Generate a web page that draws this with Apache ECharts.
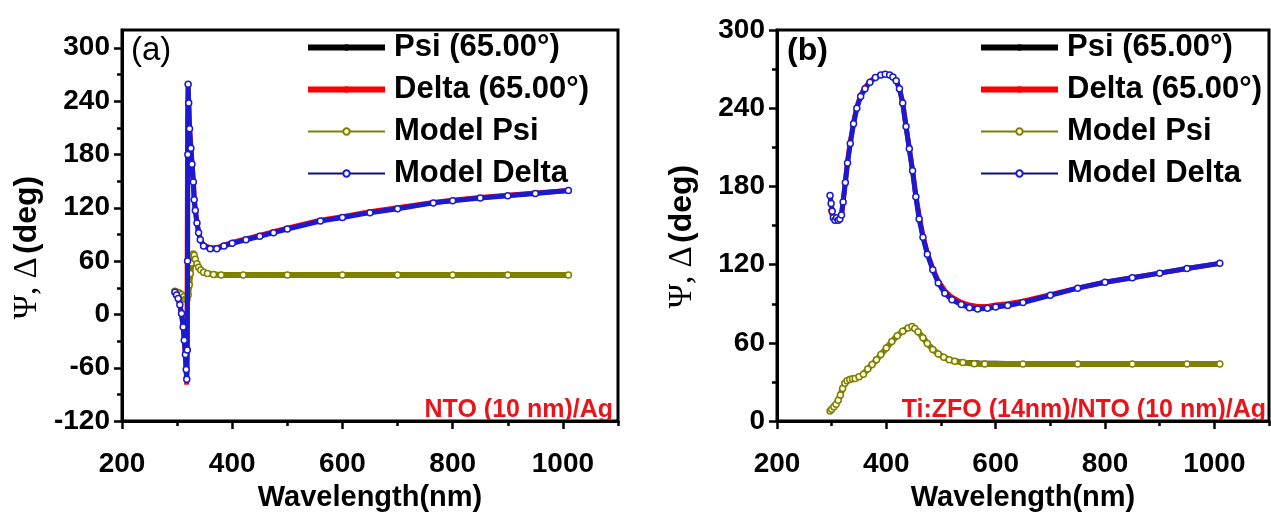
<!DOCTYPE html>
<html>
<head>
<meta charset="utf-8">
<script src="https://cdn.jsdelivr.net/npm/echarts@6/dist/echarts.min.js"></script>
<style>
html,body{margin:0;padding:0;background:#fff;}
#chart{width:1271px;height:517px;}
</style>
</head>
<body>
<div id="chart"></div>
<script>
// ---------- DATA (wavelength nm, degrees) ----------
const seriesNames = ['Psi (65.00°)', 'Delta (65.00°)', 'Model Psi', 'Model Delta'];

// Panel (a) NTO (10 nm)/Ag
const aPsiExp = [[296,27],[302,25],[308,23],[312,20],[315,16],[318,15],[320,20],[322,30],[324,42],[326,54],[328,61],[330,63],[332,61],[335,56],[339,52],[344,49],[350,47.5],[358,46.5],[366,46],[380,45],[420,44.7],[500,44.5],[600,44.5],[800,44.5],[1010,44.5]];
const aDeltaExp = [[296,24],[299,21],[302,17],[305,10],[308,0],[311,-15],[313,-30],[315,-47],[316.5,-65],[317.5,-79],[318,-30],[318.5,100],[319,222],[320,255],[321,240],[322.5,210],[325,188],[327,170],[329.5,150],[331,130],[333,118],[336,104],[339,93],[342,85],[348,78],[360,75],[372,75],[385,78],[400,81],[425,85],[450,89],[475,93],[500,97],[560,106],[600,110],[650,115.5],[700,120],[765,126],[800,128.5],[850,131.5],[900,134],[950,136.5],[1010,139.5]];
const aPsiModel = [[296,26],[300,25],[304,24],[308,22.5],[312,20],[315,17],[318,17],[320,22],[322,33],[324,46],[326,58],[328,66],[329.5,68],[331,66.5],[333,62],[336,57],[339,53],[343,50],[348,47.5],[355,46],[366,45],[380,44.5],[420,44.5],[500,44.5],[600,44.5],[700,44.5],[800,44.5],[900,44.5],[1010,44.5]];
const aDeltaModel = [[296,25],[299,22],[302,18],[305,11],[308,1],[311,-14],[313,-29],[315,-45],[316.5,-62],[317.5,-73],[318.5,-40],[319,60],[319.5,180],[320,259],[321,238],[322.5,209],[325,187],[327,169],[329.5,149],[331,129],[333,117],[336,103],[339,92],[342,84],[348,77],[360,74],[372,74],[385,77],[400,80],[425,84],[450,88],[475,92],[500,96],[560,105],[600,109],[650,114.5],[700,119],[765,125.5],[800,128],[850,131],[900,133.5],[950,136],[1010,139.5]];

// Panel (b) Ti:ZFO (14nm)/NTO (10 nm)/Ag
const bPsiExp = [[297,7],[300,8.5],[304,10.5],[308,13],[312,16],[316,20],[320,25],[324,29],[328,31],[333,32],[338,32.5],[343,32.6],[350,34],[358,36],[366,40],[374,43.5],[382,47],[390,51],[400,56],[410,61],[420,65.5],[430,69],[440,71.5],[447,72.5],[452,71],[458,68.5],[467,64],[475,59.5],[485,55],[495,51.5],[505,49],[515,47.5],[525,46.5],[540,45.5],[570,45],[600,44.8],[620,44.5],[700,43.8],[800,43.8],[900,43.8],[1010,43.8]];
const bDeltaExp = [[297,163],[300,159],[303,156],[306,155],[309,156],[312,155],[315,156],[318,159],[321,169],[325,184],[329,199],[334,214],[340,229],[346,241],[353,250],[361,256],[370,260.5],[380,263.5],[390,265.5],[398,266],[406,265.5],[412,264],[418,261],[424,255],[430,244],[436,226],[442,209],[448,192],[454,173],[460,158],[467,142],[475,129],[485,117],[495,107.5],[507,100],[520,95],[537,91],[552,89],[567,88],[585,88],[600,89],[622,90],[650,92],[700,97],[750,102],[800,106.5],[850,110],[900,113.5],[950,117],[1010,121]];
const bPsiModel = [[297,7.7],[300,9],[304,11],[308,13],[312,16],[316,20],[320,25],[324,29],[328,31],[333,32],[338,32.5],[343,32.6],[350,34],[358,36],[366,40],[374,43.5],[382,47],[390,51],[400,56],[410,61],[420,65.5],[430,69],[440,71.5],[447,72.5],[452,71],[458,68.5],[467,64],[475,59.5],[485,55],[495,51.5],[505,49],[515,47],[525,46],[540,45],[561,44],[580,43.8],[650,43.8],[750,43.8],[850,43.8],[950,43.8],[1010,43.8]];
const bDeltaModel = [[297,173],[299,167],[301,161],[303,156],[306,154],[309,156],[312,154],[315,155],[318,158],[321,168],[325,183],[329,198],[334,213],[340,228],[346,240],[353,249],[361,255],[370,260],[380,263.5],[390,265.5],[398,266],[406,265.5],[412,264],[418,261],[424,255],[430,244],[436,226],[442,209],[448,192],[454,172],[460,155],[467,141],[475,128],[485,116],[495,106],[507,98],[520,93],[537,89.5],[552,87],[567,86],[585,86.5],[600,87.5],[622,88.6],[650,91],[700,96.5],[750,102],[800,106.5],[850,110],[900,113.5],[950,117],[1010,121]];

// Axis ticks / labels
const xMajor = [200, 400, 600, 800, 1000];
const xMinor = [300, 500, 700, 900, 1100];
const aYMajor = [-120, -60, 0, 60, 120, 180, 240, 300];
const aYMinor = [-90, -30, 30, 90, 150, 210, 270];
const bYMajor = [0, 60, 120, 180, 240, 300];
const bYMinor = [30, 90, 150, 210, 270];

// ---------- STYLE ----------
const SANS = 'Liberation Sans, Arial, sans-serif';
const SERIF = 'Liberation Serif, Times New Roman, serif';
const C_PSI = '#000000', C_DELTA = '#ff0000', C_MPSI = '#808000', C_MDELTA = '#1a1ad0';
const plain = v => String(v);

const grids = [
  {left: 122, top: 30, width: 496, height: 401},
  {left: 777, top: 30, width: 492, height: 402}
];

function xAxes(gi) {
  return [
    {type: 'value', gridIndex: gi, min: 200, max: 1100, position: 'bottom',
     axisLine: {onZero: false, lineStyle: {color: '#000', width: 3}},
     axisTick: {customValues: xMajor, length: 8, lineStyle: {color: '#000', width: 2.5}},
     axisLabel: {customValues: xMajor, formatter: plain, margin: 29, fontSize: 28, fontWeight: 'bold', color: '#000', fontFamily: SANS},
     splitLine: {show: false},
     name: 'Wavelength(nm)', nameLocation: 'middle', nameGap: 55,
     nameTextStyle: {fontSize: 29, fontWeight: 'bold', color: '#000', fontFamily: SANS}},
    {type: 'value', gridIndex: gi, min: 200, max: 1100, position: 'bottom',
     axisLine: {show: false, onZero: false},
     axisTick: {customValues: xMinor, length: 5, lineStyle: {color: '#000', width: 2.5}},
     axisLabel: {show: false}, splitLine: {show: false}}
  ];
}
function yAxes(gi, min, max, major, minor, pad) {
  return [
    {type: 'value', gridIndex: gi, min: min, max: max, position: 'left',
     axisLine: {onZero: false, lineStyle: {color: '#000', width: 3}},
     axisTick: {customValues: major, length: 8, lineStyle: {color: '#000', width: 2.5}},
     axisLabel: {customValues: major, formatter: plain, margin: 12, fontSize: 28, fontWeight: 'bold', color: '#000', fontFamily: SANS},
     splitLine: {show: false},
     name: '{g|Ψ, Δ} {b|(deg)}', nameLocation: 'middle', nameGap: 78,
     nameTextStyle: {padding: [0, pad, 0, 0], rich: {
       g: {fontFamily: SERIF, fontSize: 33, color: '#000'},
       b: {fontFamily: SANS, fontSize: 32, fontWeight: 'bold', color: '#000'}}}},
    {type: 'value', gridIndex: gi, min: min, max: max, position: 'left',
     axisLine: {show: false, onZero: false},
     axisTick: {customValues: minor, length: 5, lineStyle: {color: '#000', width: 2.5}},
     axisLabel: {show: false}, splitLine: {show: false}}
  ];
}

function panelSeries(gi, psiExp, deltaExp, psiModel, deltaModel) {
  const xi = gi * 2, yi = gi * 2;
  return [
    {name: seriesNames[0], type: 'line', xAxisIndex: xi, yAxisIndex: yi, data: psiExp,
     symbol: 'none', lineStyle: {color: C_PSI, width: 4}, itemStyle: {color: C_PSI}, z: 2},
    {name: seriesNames[1], type: 'line', xAxisIndex: xi, yAxisIndex: yi, data: deltaExp,
     symbol: 'none', lineStyle: {color: C_DELTA, width: 5}, itemStyle: {color: C_DELTA}, z: 3},
    {name: seriesNames[2], type: 'line', xAxisIndex: xi, yAxisIndex: yi, data: psiModel,
     symbol: 'circle', symbolSize: 6, showSymbol: true,
     lineStyle: {color: C_MPSI, width: 6},
     itemStyle: {color: '#ffffe8', borderColor: C_MPSI, borderWidth: 1.5}, z: 4},
    {name: seriesNames[3], type: 'line', xAxisIndex: xi, yAxisIndex: yi, data: deltaModel,
     symbol: 'circle', symbolSize: 6, showSymbol: true,
     lineStyle: {color: C_MDELTA, width: 5},
     itemStyle: {color: '#ffffff', borderColor: C_MDELTA, borderWidth: 1.5}, z: 5}
  ];
}

function legend(left) {
  return {
    left: left, top: 32, padding: 0, orient: 'vertical', itemWidth: 77, itemHeight: 8, itemGap: 11,
    selectedMode: false,
    textStyle: {fontSize: 31, fontWeight: 'bold', color: '#000', fontFamily: SANS, padding: [0, 0, 0, 4]},
    data: [
      {name: seriesNames[0], lineStyle: {width: 6, color: C_PSI}},
      {name: seriesNames[1], lineStyle: {width: 6, color: C_DELTA}},
      {name: seriesNames[2], lineStyle: {width: 2, color: C_MPSI}},
      {name: seriesNames[3], lineStyle: {width: 2, color: '#101080'}}
    ]
  };
}

const chart = echarts.init(document.getElementById('chart'), null, {renderer: 'canvas'});
chart.setOption({
  animation: false,
  backgroundColor: '#fff',
  grid: grids.map(g => Object.assign({show: true, borderColor: '#000', borderWidth: 3, backgroundColor: 'transparent', containLabel: false}, g)),
  xAxis: xAxes(0).concat(xAxes(1)),
  yAxis: yAxes(0, -120, 320, aYMajor, aYMinor, 44).concat(yAxes(1, 0, 300, bYMajor, bYMinor, 22)),
  legend: [legend(305), legend(978)],
  series: panelSeries(0, aPsiExp, aDeltaExp, aPsiModel, aDeltaModel)
    .concat(panelSeries(1, bPsiExp, bDeltaExp, bPsiModel, bDeltaModel)),
  graphic: [
    {type: 'text', left: 131, top: 34, style: {text: '(a)', font: 'normal 33px ' + SANS, fill: '#000'}},
    {type: 'text', left: 787, top: 35, style: {text: '(b)', font: 'bold 32px ' + SANS, fill: '#000'}},
    {type: 'text', right: 1271 - 613, top: 398, style: {text: 'NTO (10 nm)/Ag', font: 'bold 25px ' + SANS, fill: '#e8141c'}},
    {type: 'text', right: 5, top: 398, style: {text: 'Ti:ZFO (14nm)/NTO (10 nm)/Ag', font: 'bold 25px ' + SANS, fill: '#e8141c'}}
  ]
});
</script>
</body>
</html>
